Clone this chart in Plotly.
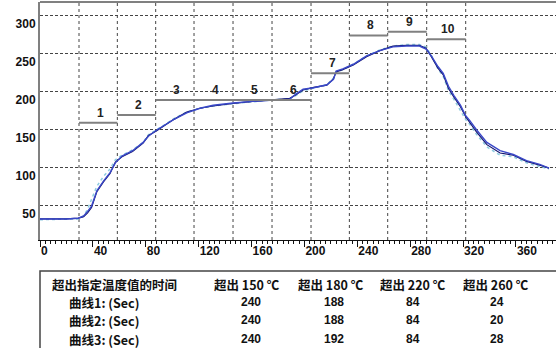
import plotly.graph_objects as go

W, H = 556, 348

# ---------------- data ----------------
time_s = [0, 10, 20, 29, 33, 36, 39, 43, 48, 53, 57, 62, 70, 78, 82, 88, 95, 101, 111, 121,
          131, 146, 161, 176, 189, 193, 199, 207, 217, 222, 224, 229, 237, 247, 257, 267, 277, 287, 292, 296,
          301, 305, 309, 313, 318, 322, 325, 330, 338, 348, 358, 368, 378, 385]
curve1 = [32, 32, 32, 33, 35, 40, 47, 68, 81, 92, 107, 114, 121, 132, 142, 148, 156, 163, 173, 178,
          181, 184.5, 187, 189, 191, 195, 202, 205.5, 208.5, 217, 226, 229, 235, 246, 254, 260, 261, 261, 257, 246,
          231, 222, 204, 193, 180, 167, 160, 147, 130, 119, 116, 108, 103, 99]
curve2 = [32, 32, 32, 33, 36, 42, 49, 69, 82, 93, 106, 115, 122, 133, 141, 149, 157, 163, 172, 178,
          182, 185, 187, 189, 190, 196, 203, 205, 209, 216, 227, 230, 236, 247, 254, 259, 260, 260, 256, 247,
          233, 224, 207, 195, 182, 168, 162, 150, 133, 122, 117, 109, 104, 99]
curve3 = [31, 31, 31, 32, 36, 45, 58, 75, 88, 98, 110, 116, 123, 133, 143, 149, 157, 164, 173, 178,
          181, 184, 187, 189, 191, 194, 201, 205, 209, 218, 225, 229, 236, 247, 255, 260, 262, 262, 259, 248,
          230, 220, 201, 190, 176, 163, 157, 144, 127, 116, 114, 106, 101, 98]

zone_names = ["1", "2", "3", "4", "5", "6", "7", "8", "9", "10"]
zone_edges = [29.5, 58.5, 87.5, 116.5, 146, 175.5, 205, 234, 263, 292.5, 322]
zone_levels = [159, 169, 189, 189, 189, 189, 224, 274, 279, 269]

x_ticks = [0, 40, 80, 120, 160, 200, 240, 280, 320, 360]
y_ticks = [50, 100, 150, 200, 250, 300]

table_title = "超出指定温度值的时间"
threshold_labels = ["超出 150 ℃", "超出 180 ℃", "超出 220 ℃", "超出 260 ℃"]
row_labels = ["曲线1: (Sec)", "曲线2: (Sec)", "曲线3: (Sec)"]
table_values = [[240, 188, 84, 24],
                [240, 188, 84, 20],
                [240, 192, 84, 28]]

# ---------------- layout helpers (pixels -> paper) ----------------
def px(x):
    return x / W

def py(y):
    return 1 - y / H

FONT = "Arial, 'Liberation Sans', 'Noto Sans CJK SC', sans-serif"
CJK = "'Noto Sans CJK SC', Arial, sans-serif"

fig = go.Figure()

# curves
fig.add_trace(go.Scatter(x=time_s, y=curve3, mode="lines", name="曲线3",
                         line=dict(color="#8ecbe0", width=1.5, dash="dot")))
fig.add_trace(go.Scatter(x=time_s, y=curve1, mode="lines", name="曲线1",
                         line=dict(color="#14146e", width=1.2)))
fig.add_trace(go.Scatter(x=time_s, y=curve2, mode="lines", name="曲线2",
                         line=dict(color="#3a48c8", width=1.4)))

# zone setpoint segments
for i, name in enumerate(zone_names):
    x0, x1 = zone_edges[i], zone_edges[i + 1]
    lv = zone_levels[i]
    fig.add_trace(go.Scatter(x=[x0, x1], y=[lv, lv], mode="lines", showlegend=False,
                             hoverinfo="skip", line=dict(color="#808080", width=2)))
    fig.add_annotation(x=(x0 + x1) / 2, y=lv, text=name, showarrow=False,
                       xanchor="center", yanchor="bottom", yshift=1, xshift=2,
                       font=dict(family=FONT, size=12, color="#222", weight="bold"))

# vertical zone grid lines
for e in zone_edges:
    fig.add_shape(type="line", xref="x", yref="y domain", x0=e, x1=e, y0=0, y1=1,
                  line=dict(color="#444", width=1, dash="dot"), layer="below")

# top frame line
fig.add_shape(type="line", xref="paper", yref="paper", x0=px(40), x1=1.0, y0=py(2), y1=py(2),
              line=dict(color="#808080", width=2))

# table box
fig.add_shape(type="rect", xref="paper", yref="paper", x0=px(40), x1=px(562), y0=py(271), y1=py(356),
              line=dict(color="#444", width=1.5), fillcolor="rgba(0,0,0,0)")

tfont = dict(family=CJK, size=12.5, color="#111", weight="bold")
fig.add_annotation(x=px(50), y=py(284), xref="paper", yref="paper", text=table_title,
                   showarrow=False, xanchor="left", yanchor="middle", font=tfont)
col_centers = [247, 331, 413, 496]
val_centers = [251, 334, 413, 497]
for c, lab in zip(col_centers, threshold_labels):
    fig.add_annotation(x=px(c), y=py(284), xref="paper", yref="paper", text=lab,
                       showarrow=False, xanchor="center", yanchor="middle", font=tfont)
row_ys = [302, 320, 339]
for ry, lab, vals in zip(row_ys, row_labels, table_values):
    fig.add_annotation(x=px(67), y=py(ry), xref="paper", yref="paper", text=lab,
                       showarrow=False, xanchor="left", yanchor="middle", font=tfont)
    for c, v in zip(val_centers, vals):
        fig.add_annotation(x=px(c), y=py(ry), xref="paper", yref="paper", text=str(v),
                           showarrow=False, xanchor="center", yanchor="middle",
                           font=dict(family=FONT, size=12, color="#111", weight="bold"))

fig.update_layout(
    width=W, height=H,
    margin=dict(l=0, r=0, t=0, b=0),
    paper_bgcolor="white", plot_bgcolor="white",
    showlegend=False,
    xaxis=dict(domain=[px(40), 1.0], range=[0, 390.3],
               tickvals=x_ticks, ticktext=[str(v) for v in x_ticks],
               ticks="outside", ticklen=6, tickcolor="#111", tickwidth=1,
               ticklabelposition="outside right",
               minor=dict(dtick=4, ticks="outside", ticklen=3, tickcolor="#111", showgrid=False),
               showgrid=False, zeroline=False,
               showline=True, linecolor="#111", linewidth=1,
               tickfont=dict(family=FONT, size=12, color="#111", weight="bold")),
    yaxis=dict(domain=[1 - 240 / H, 1 - 2 / H], range=[4.25, 318.1],
               tickvals=y_ticks, ticktext=[str(v) for v in y_ticks],
               ticks="", ticklabelposition="outside bottom",
               showgrid=True, gridcolor="#444", gridwidth=1, griddash="3px,2px",
               zeroline=False, showline=True, linecolor="#808080", linewidth=2,
               tickfont=dict(family=FONT, size=12, color="#111", weight="bold")),
)

fig.write_html("out.html",
               config={"displayModeBar": False},
               post_script="document.body.style.margin='0';document.body.style.padding='0';"
                           "document.body.style.overflow='hidden';")
